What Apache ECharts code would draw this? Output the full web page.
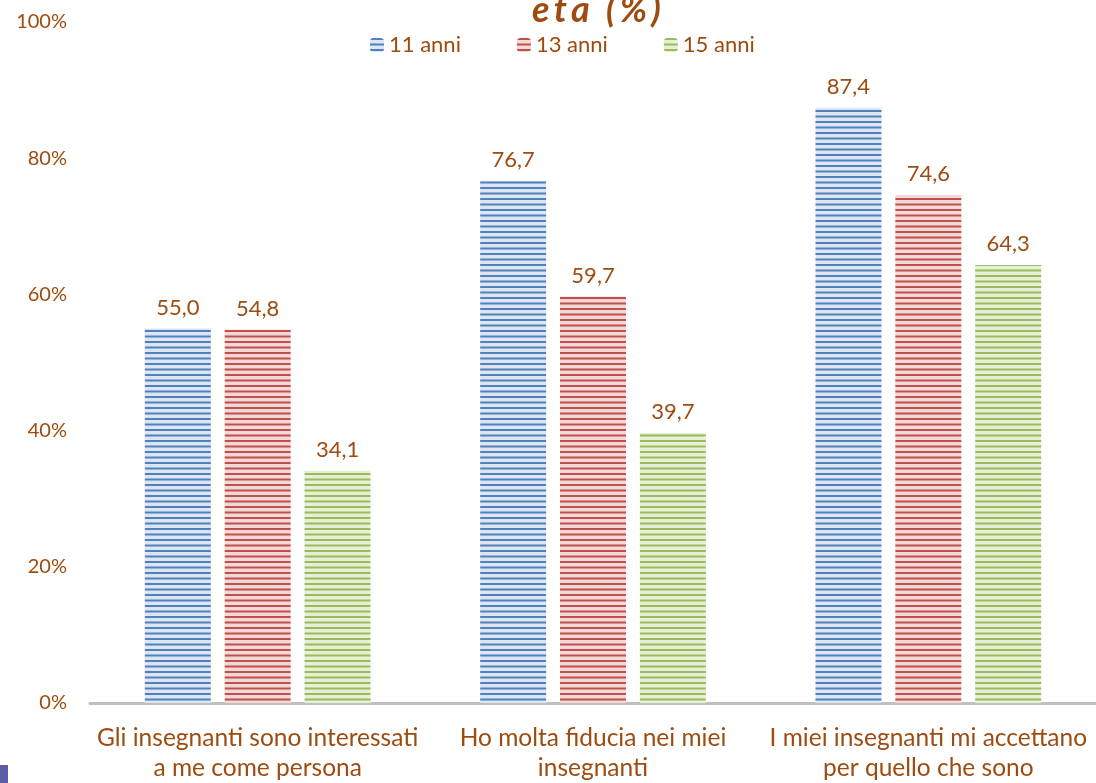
<!DOCTYPE html>
<html>
<head>
<meta charset="utf-8">
<script src="https://cdn.jsdelivr.net/npm/echarts@6/dist/echarts.min.js"></script>
<style>html,body{margin:0;padding:0;background:#fff;}#c{width:1096px;height:783px;}</style>
</head>
<body>
<div id="c"></div>
<script>
const categories = ['Gli insegnanti sono interessati\na me come persona', 'Ho molta fiducia nei miei\ninsegnanti', 'I miei insegnanti mi accettano\nper quello che sono'];
const seriesNames = ['11 anni', '13 anni', '15 anni'];
const values11 = [55.0, 76.7, 87.4];
const values13 = [54.8, 59.7, 74.6];
const values15 = [34.1, 39.7, 64.3];
const yTicks = [0, 20, 40, 60, 80, 100];
const titleText = 'e\u2009t\u2009a\u2009\u2009 (\u2009%\u2009)';

const FONT = 'Lato';
const BROWN = '#9E4B0F';

function stripes(dark, light) {
  const c = document.createElement('canvas');
  c.width = 8; c.height = 11;
  const g = c.getContext('2d');
  g.fillStyle = light; g.fillRect(0, 0, 8, 11);
  g.fillStyle = dark;
  g.fillRect(0, 0, 8, 2);
  g.fillRect(0, 5.5, 8, 2);
  return { image: c, repeat: 'repeat' };
}
const pats = [stripes('#4F81BD', '#DCE5F1'), stripes('#C0504D', '#F2D8D7'), stripes('#9BBB59', '#E6EFD8')];
const data = [values11, values13, values15];

const chart = echarts.init(document.getElementById('c'));
chart.setOption({
  animation: false,
  textStyle: { fontFamily: FONT },
  grid: { left: 90, top: 22, bottom: 80, width: 1011 },
  legend: {
    top: 29, left: 365, itemWidth: 14, itemHeight: 14, itemGap: 56,
    textStyle: { color: BROWN, fontSize: 22, fontFamily: FONT },
    data: seriesNames
  },
  graphic: [
    { type: 'text', left: 532, top: -8, style: { text: titleText, font: 'italic bold 36px ' + FONT, fill: BROWN } },
    { type: 'rect', shape: { x: 0, y: 765, width: 8, height: 18 }, style: { fill: '#5B5EA6' } }
  ],
  xAxis: {
    type: 'category', data: categories,
    axisLine: { lineStyle: { color: '#BFBFBF', width: 3 } },
    axisTick: { show: false },
    axisLabel: { interval: 0, color: BROWN, fontSize: 24.5, lineHeight: 30, margin: 20, fontFamily: FONT }
  },
  yAxis: {
    type: 'value', min: 0, max: 100, interval: 20,
    splitLine: { show: false },
    axisLine: { show: false }, axisTick: { show: false },
    axisLabel: { color: BROWN, fontSize: 20, margin: 23, fontFamily: FONT, formatter: v => yTicks.includes(v) ? v + '%' : '' }
  },
  series: seriesNames.map((n, i) => ({
    name: n, type: 'bar', data: data[i],
    barWidth: 66, barGap: '21%',
    itemStyle: { color: pats[i] },
    label: { show: true, position: 'top', distance: 10, color: BROWN, fontSize: 22, fontFamily: FONT,
      formatter: p => p.value.toFixed(1).replace('.', ',') }
  }))
});
</script>
</body>
</html>
